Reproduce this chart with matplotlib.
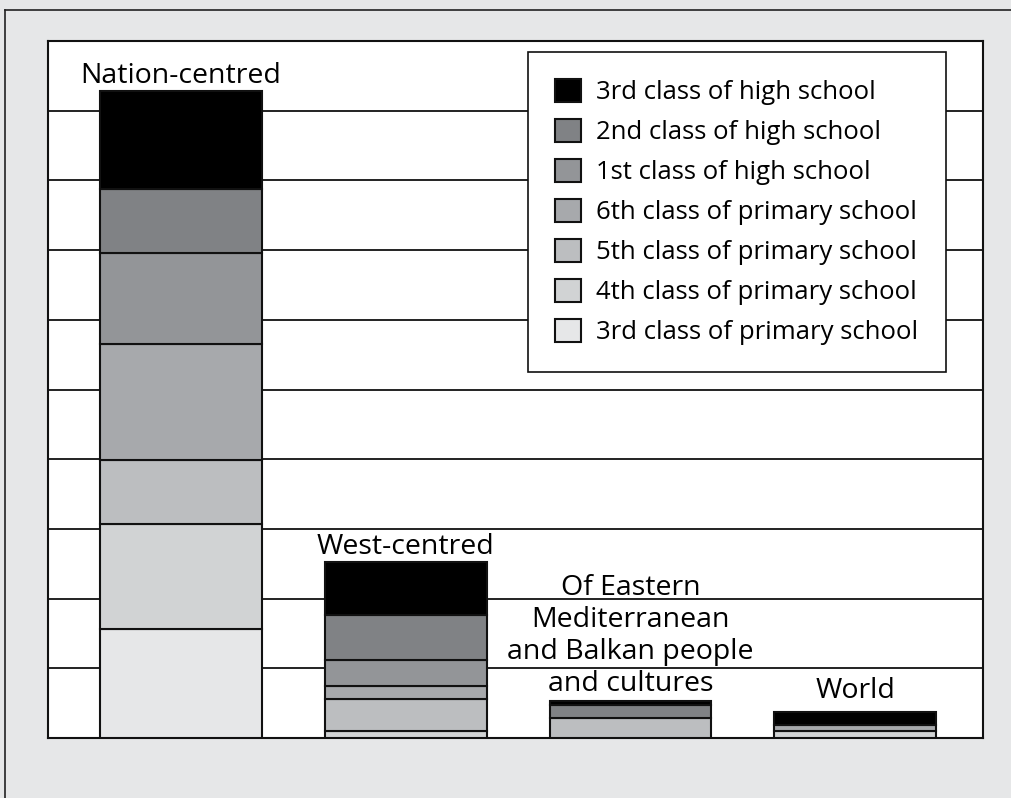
import matplotlib.pyplot as plt
from matplotlib.lines import Line2D
import numpy as np

plt.rcParams['font.family'] = ['Open Sans', 'DejaVu Sans']

groups = ['Nation-centred', 'West-centred',
          'Of Eastern\nMediterranean\nand Balkan people\nand cultures', 'World']
# stacked bottom -> top
classes = ['3rd class of primary school', '4th class of primary school',
           '5th class of primary school', '6th class of primary school',
           '1st class of high school', '2nd class of high school',
           '3rd class of high school']
values = [
    [15.7, 0.0, 0.0, 0.0],
    [15.0, 1.0, 0.0, 1.0],
    [9.2, 4.6, 2.8, 0.0],
    [16.7, 1.9, 0.0, 0.8],
    [13.0, 3.7, 0.0, 0.0],
    [9.1, 6.4, 1.9, 0.0],
    [14.1, 7.6, 0.6, 2.0],
]
colors = ['#e6e7e8', '#d1d3d4', '#bcbec0', '#a7a9ac', '#939598', '#808285', '#000000']

fig = plt.figure(figsize=(10.12, 7.98), dpi=100)
fig.patch.set_facecolor('#e6e7e8')
ax = fig.add_axes([0.0474, 0.0752, 0.9239, 0.8734])
ax.set_facecolor('white')

# outer frame lines (top and left)
fig.add_artist(Line2D([0.005, 1.0], [0.9875, 0.9875], color='#222222', lw=1.2))
fig.add_artist(Line2D([0.005, 0.005], [0.0, 0.9875], color='#222222', lw=1.2))

x = np.arange(len(groups))
bottom = np.zeros(len(groups))
handles = []
for name, vals, c in zip(classes, values, colors):
    vals = np.array(vals)
    lw = np.where(vals > 0, 1.5, 0)
    b = ax.bar(x, vals, 0.72, bottom=bottom, color=c, edgecolor='#111111',
               linewidth=lw, label=name, zorder=3)
    handles.append(b)
    bottom += vals

ax.set_xlim(-0.592, 3.569)
ax.set_ylim(0, 100)
ax.set_yticks(np.arange(0, 101, 10))
ax.set_xticks([])
ax.tick_params(left=False, labelleft=False)
ax.grid(axis='y', color='#111111', lw=1.3, zorder=0)
for s in ax.spines.values():
    s.set_color('#111111')
    s.set_linewidth(1.5)

offsets = [(0, 1), (0, 1), (0, 2), (0, 5)]
for xi, top, lab, off in zip(x, bottom, groups, offsets):
    ax.annotate(lab, (xi, top), xytext=off, textcoords='offset points',
                ha='center', va='bottom', fontsize=20.5, linespacing=1.2,
                zorder=4)

leg = ax.legend(handles[::-1], classes[::-1], loc='upper right',
                bbox_to_anchor=(0.960, 0.984), fontsize=18.5, frameon=True,
                fancybox=False, edgecolor='#111111', framealpha=1,
                handlelength=1.0, handleheight=1.0, handletextpad=0.6,
                labelspacing=0.53, borderpad=1.05, borderaxespad=0)
leg.get_frame().set_linewidth(1.2)
leg.set_zorder(5)

fig.savefig('out.png', dpi=100, facecolor=fig.get_facecolor())
